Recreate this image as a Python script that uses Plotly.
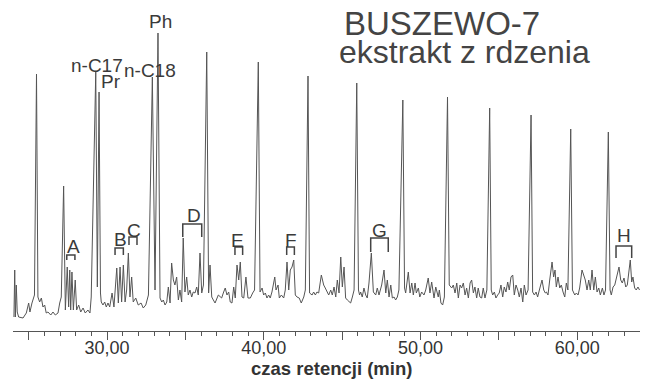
import plotly.graph_objects as go

# ---- chromatogram trace: (retention time [min], detector response [a.u.]) ----
seg_24_30 = [
    (24.06, 14), (24.11, 61), (24.15, 14), (24.21, 46), (24.27, 19), (24.36, 14), (24.64, 13),
    (24.85, 18), (25.00, 28), (25.08, 19), (25.21, 28), (25.37, 36), (25.50, 257), (25.59, 34),
    (25.70, 29), (25.81, 33), (25.91, 24), (26.02, 26), (26.12, 18), (26.23, 19), (26.41, 16),
    (26.55, 19), (26.70, 16), (26.87, 18), (26.98, 28), (27.08, 34), (27.23, 145), (27.34, 21),
    (27.46, 64), (27.55, 24), (27.62, 61), (27.68, 21), (27.76, 59), (27.85, 21), (27.97, 51),
    (28.06, 21), (28.19, 26), (28.32, 19), (28.47, 23), (28.61, 18), (28.78, 21), (28.91, 18),
    (28.99, 34), (29.28, 259), (29.38, 44), (29.49, 239), (29.58, 38), (29.63, 29), (29.74, 26),
    (29.85, 29), (29.95, 24),
]
seg_30_36 = [
    (30.06, 28), (30.17, 24), (30.32, 38), (30.44, 24), (30.62, 63), (30.72, 28), (30.83, 64),
    (30.93, 29), (31.04, 66), (31.15, 29), (31.25, 41), (31.36, 78), (31.46, 34), (31.57, 54),
    (31.67, 29), (31.83, 33), (31.99, 26), (32.17, 28), (32.31, 23), (32.47, 26), (32.64, 36),
    (32.89, 254), (33.06, 41), (33.25, 298), (33.35, 38), (33.38, 33), (33.49, 29), (33.59, 31),
    (33.70, 26), (33.81, 29), (33.91, 44), (34.02, 28), (34.12, 68), (34.23, 51), (34.33, 46),
    (34.44, 54), (34.55, 31), (34.65, 41), (34.76, 29), (34.86, 93), (34.97, 39), (35.08, 54),
    (35.18, 36), (35.29, 41), (35.40, 34), (35.50, 39), (35.61, 38), (35.72, 44), (35.82, 36),
    (35.93, 78),
]
seg_36_42 = [
    (36.04, 38), (36.15, 46), (36.36, 279), (36.48, 38), (36.57, 66), (36.68, 34), (36.78, 31),
    (36.89, 28), (37.10, 36), (37.31, 33), (37.44, 39), (37.54, 43), (37.65, 36), (37.76, 39),
    (37.86, 29), (37.97, 28), (38.08, 44), (38.18, 33), (38.29, 66), (38.40, 51), (38.50, 69),
    (38.61, 34), (38.72, 33), (38.86, 54), (38.99, 33), (39.14, 33), (39.29, 38), (39.41, 41),
    (39.65, 269), (39.76, 39), (39.89, 43), (39.99, 36), (40.10, 38), (40.20, 33), (40.31, 36),
    (40.41, 33), (40.52, 39), (40.70, 54), (40.78, 41), (40.91, 46), (40.99, 33), (41.12, 36),
    (41.27, 33), (41.37, 41), (41.48, 69), (41.59, 41), (41.69, 61), (41.80, 64), (41.91, 71),
]
seg_42_48 = [
    (42.01, 36), (42.12, 34), (42.26, 33), (42.39, 28), (42.55, 34), (42.65, 41), (42.82, 255),
    (42.92, 38), (43.08, 36), (43.18, 39), (43.29, 36), (43.39, 39), (43.50, 38), (43.67, 56),
    (43.82, 46), (43.92, 43), (44.14, 36), (44.27, 41), (44.37, 36), (44.48, 44), (44.59, 34),
    (44.69, 51), (44.80, 38), (44.91, 74), (45.01, 44), (45.12, 64), (45.22, 33), (45.33, 31),
    (45.44, 29), (45.54, 28), (45.65, 34), (45.76, 41), (45.93, 248), (46.04, 41), (46.11, 36),
    (46.18, 39), (46.28, 34), (46.39, 43), (46.50, 36), (46.60, 33), (46.71, 48), (46.86, 78),
    (46.99, 39), (47.14, 36), (47.24, 43), (47.35, 36), (47.52, 46), (47.67, 61), (47.78, 38),
    (47.88, 51), (47.99, 34),
]
seg_48_54 = [
    (48.10, 46), (48.20, 33), (48.31, 34), (48.41, 31), (48.52, 34), (48.62, 41), (48.87, 231),
    (48.98, 43), (49.05, 38), (49.22, 59), (49.33, 38), (49.44, 48), (49.54, 36), (49.65, 48),
    (49.73, 38), (49.86, 43), (49.95, 34), (50.07, 39), (50.22, 36), (50.33, 41), (50.49, 53),
    (50.60, 38), (50.71, 49), (50.86, 33), (50.97, 44), (51.13, 34), (51.20, 41), (51.30, 28),
    (51.41, 26), (51.52, 34), (51.72, 234), (51.83, 46), (51.99, 43), (52.09, 46), (52.20, 38),
    (52.31, 48), (52.41, 33), (52.52, 46), (52.62, 43), (52.73, 48), (52.84, 36), (52.94, 43),
    (53.05, 33), (53.16, 48), (53.26, 51), (53.37, 38), (53.47, 44), (53.58, 33), (53.68, 43),
    (53.79, 34), (53.90, 33),
]
seg_54_60 = [
    (54.00, 43), (54.11, 33), (54.23, 41), (54.41, 223), (54.51, 41), (54.60, 36), (54.71, 39),
    (54.81, 33), (54.92, 36), (55.02, 38), (55.13, 46), (55.24, 34), (55.34, 44), (55.45, 39),
    (55.56, 49), (55.66, 41), (55.77, 54), (55.88, 56), (55.98, 36), (56.09, 46), (56.20, 41),
    (56.30, 34), (56.41, 43), (56.52, 29), (56.62, 46), (56.73, 36), (56.86, 41), (57.05, 216),
    (57.15, 39), (57.26, 36), (57.37, 39), (57.47, 34), (57.58, 41), (57.75, 51), (57.86, 41),
    (57.96, 38), (58.03, 39), (58.13, 36), (58.24, 51), (58.39, 69), (58.49, 54), (58.58, 61),
    (58.66, 44), (58.77, 54), (58.88, 43), (58.98, 46), (59.09, 39), (59.20, 34), (59.30, 48),
    (59.40, 41), (59.58, 202), (59.69, 41), (59.84, 36), (59.94, 38),
]
seg_60_64 = [
    (60.05, 36), (60.15, 43), (60.30, 61), (60.41, 56), (60.51, 51), (60.62, 41), (60.73, 51),
    (60.83, 41), (60.94, 61), (61.05, 41), (61.15, 54), (61.26, 39), (61.37, 43), (61.47, 36),
    (61.60, 43), (61.70, 36), (61.80, 41), (61.98, 199), (62.09, 41), (62.17, 36), (62.28, 44),
    (62.39, 46), (62.49, 54), (62.66, 64), (62.77, 51), (62.87, 48), (62.98, 53), (63.09, 44),
    (63.19, 46), (63.30, 61), (63.38, 71), (63.47, 49), (63.55, 54), (63.66, 43), (63.76, 41),
    (63.87, 44), (63.97, 41),
]

# ---- compound labels ----
peak_names = ["n-C17", "Pr", "n-C18", "Ph"]
group_names = ["A", "B", "C", "D", "E", "F", "G", "H"]
group_spans = [(27.43, 27.95), (30.51, 31.04), (31.40, 31.91), (34.83, 36.04),
               (38.16, 38.65), (41.46, 41.95), (46.82, 47.94), (62.47, 63.47)]

# ---- axis ----
major_ticks = [25, 30, 35, 40, 45, 50, 55, 60]
tick_labels = ["", "30,00", "", "40,00", "", "50,00", "", "60,00"]
minor_ticks = [m for m in range(25, 64) if m % 5 != 0]

title_lines = ["BUSZEWO-7", "ekstrakt z rdzenia"]
x_title = "czas retencji (min)"

# ------------------------------------------------------------------
points = seg_24_30 + seg_30_36 + seg_36_42 + seg_42_48 + seg_48_54 + seg_54_60 + seg_60_64
t = [p[0] for p in points]
r = [p[1] for p in points]

FONT = "Liberation Sans, Arial, Helvetica, sans-serif"
TXT = "#3a3a3a"

fig = go.Figure()
fig.add_trace(go.Scatter(x=t, y=r, mode="lines",
                         line=dict(color="#555555", width=1),
                         hoverinfo="skip", showlegend=False))

# label placements (layout only)
peak_label_pos = {"n-C17": (29.38, 265.7), "Pr": (30.25, 249.7),
                  "n-C18": (32.74, 260.7), "Ph": (33.38, 309.7)}
group_label_pos = [(27.83, 84.7), (30.86, 91.7), (31.72, 100.7), (35.52, 115.7),
                   (38.35, 90.7), (41.74, 90.7), (47.41, 100.7), (62.96, 95.7)]
bracket_levels = [(76, 71), (83, 76), (94, 86), (107, 94),
                  (84, 76), (84, 76), (93, 79), (85, 73)]

annotations = []
for name in peak_names:
    x, y = peak_label_pos[name]
    annotations.append(dict(x=x, y=y, xref="x", yref="y", text=name, showarrow=False,
                            xanchor="center", yanchor="middle",
                            font=dict(family=FONT, size=19, color=TXT)))
shapes = []
for name, (x0, x1), (lx, ly), (top, leg) in zip(group_names, group_spans,
                                                 group_label_pos, bracket_levels):
    annotations.append(dict(x=lx, y=ly, xref="x", yref="y", text=name, showarrow=False,
                            xanchor="center", yanchor="middle",
                            font=dict(family=FONT, size=19, color=TXT)))
    shapes.append(dict(type="path", xref="x", yref="y",
                       path=f"M {x0},{leg} L {x0},{top} L {x1},{top} L {x1},{leg}",
                       line=dict(color="#444444", width=1.5)))

annotations.append(dict(x=44.99, y=308, xref="x", yref="y", text=title_lines[0],
                        showarrow=False, xanchor="left", yanchor="middle",
                        font=dict(family=FONT, size=33, color="#444444")))
annotations.append(dict(x=44.67, y=278.8, xref="x", yref="y", text=title_lines[1],
                        showarrow=False, xanchor="left", yanchor="middle",
                        font=dict(family=FONT, size=32, color="#444444")))
annotations.append(dict(x=44.29, y=-37 / 331, xref="x", yref="paper", text=f"<b>{x_title}</b>",
                        showarrow=False, xanchor="center", yanchor="middle",
                        font=dict(family=FONT, size=18.5, color="#333333")))

fig.update_layout(
    width=651, height=380, autosize=False,
    margin=dict(l=13, r=11, t=0, b=49),
    paper_bgcolor="white", plot_bgcolor="white",
    showlegend=False,
    annotations=annotations, shapes=shapes,
    xaxis=dict(range=[24, 64], showline=True, linecolor="#555555", linewidth=1,
               showgrid=False, zeroline=False, automargin=False,
               tickmode="array", tickvals=major_ticks, ticktext=tick_labels,
               ticks="outside", ticklen=8, tickwidth=1, tickcolor="#555555",
               ticklabelstandoff=-8,
               tickfont=dict(family=FONT, size=18, color="#333333"),
               minor=dict(tickmode="array", tickvals=minor_ticks, ticks="outside",
                          ticklen=4, tickwidth=1, tickcolor="#555555", showgrid=False)),
    yaxis=dict(range=[0, 331], visible=False, fixedrange=True),
)

fig.write_html("out.html", config={"displayModeBar": False},
               post_script="document.body.style.margin='0';document.body.style.overflow='hidden';")
